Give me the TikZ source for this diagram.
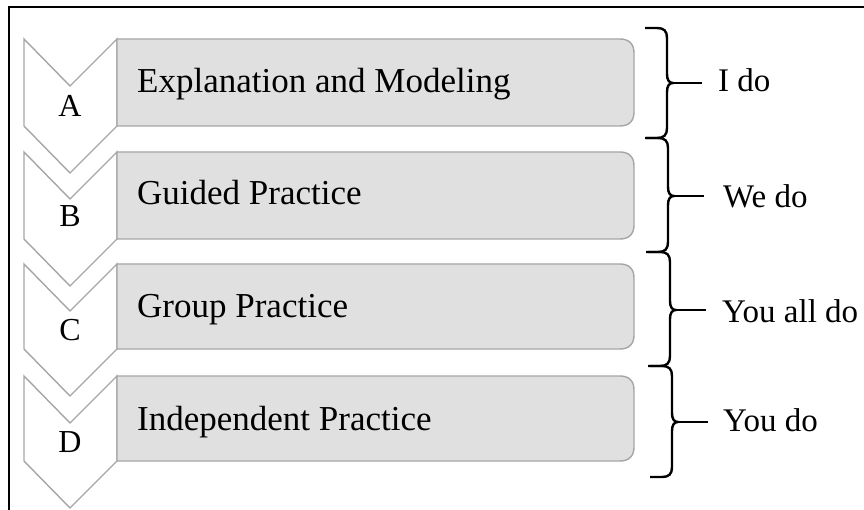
\documentclass[tikz,border=0pt]{standalone}
\usepackage{fontspec}
\setmainfont{Liberation Serif}
\definecolor{boxfill}{RGB}{224,224,224}
\definecolor{boxline}{RGB}{166,166,166}
\tikzset{
  boxtext/.style={anchor=base west,inner sep=0pt,font=\fontsize{35}{40}\selectfont},
  lettertext/.style={anchor=base,inner sep=0pt,font=\fontsize{32}{36}\selectfont},
  sidetext/.style={anchor=base west,inner sep=0pt,font=\fontsize{33}{38}\selectfont},
  chev/.style={draw=boxline,fill=white,line width=1.4pt,line join=miter},
  bar/.style={draw=boxline,fill=boxfill,line width=1.4pt},
  brace/.style={draw=black,line width=2.4pt},
  frameline/.style={draw=black,line width=2pt}
}
\begin{document}
\begin{tikzpicture}[x=1pt,y=-1pt]
\useasboundingbox (0,0) rectangle (864,510);
\fill[white] (0,0) rectangle (864,510);
\draw[frameline] (9,510) -- (9,7) -- (864,7);
% rows
\foreach \t/\b/\lb/\lt/\tb/\nm/\txt in {
  39/126/117/A/93/a/{Explanation and Modeling},
  152/239/227/B/205/b/{Guided Practice},
  264/349/340/C/318/c/{Group Practice},
  376/461/452/D/430/d/{Independent Practice}}{
  \draw[chev] (24,\t) -- (70,\t+47) -- (117,\t) -- (117,\b) -- (70,\b+47) -- (24,\b) -- cycle;
  \draw[bar] (117,\t) -- (620,\t) .. controls (629,\t) and (634,\t+5) .. (634,\t+14)
     -- (634,\b-14) .. controls (634,\b-5) and (629,\b) .. (620,\b) -- (117,\b) -- cycle;
  \node[lettertext] (l\nm) at (70,\lb) {\lt};
  \node[boxtext] (t\nm) at (137,\tb) {\txt};
}
% braces
\foreach \T/\M/\B/\S/\E/\nm/\txt/\tx/\ty in {
  28/83/138/667/702/a/{I do}/718/92,
  138/196/252/668/704/b/{We do}/723/208,
  252/310/366/670/706/c/{You all do}/722/323,
  366/422/477/672/708/d/{You do}/723/431}{
  \draw[brace] (\S-22,\T) -- (\S-10,\T) .. controls (\S-3,\T) and (\S,\T+3) .. (\S,\T+10)
    -- (\S,\M-9) .. controls (\S,\M-3) and (\S+2,\M) .. (\S+6,\M)
    .. controls (\S+2,\M) and (\S,\M+3) .. (\S,\M+9)
    -- (\S,\B-10) .. controls (\S,\B-3) and (\S-3,\B) .. (\S-10,\B) -- (\S-22,\B);
  \draw[brace] (\S+6,\M) -- (\E,\M);
  \node[sidetext] (s\nm) at (\tx,\ty) {\txt};
}
\end{tikzpicture}
\end{document}
